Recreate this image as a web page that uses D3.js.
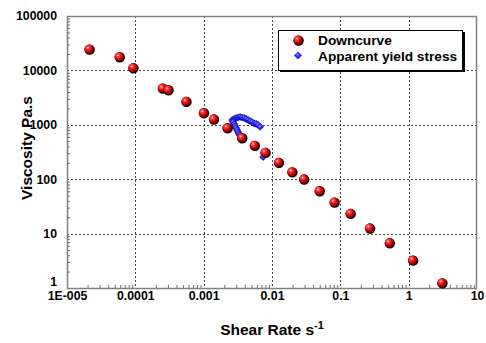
<!DOCTYPE html>
<html><head><meta charset="utf-8">
<script src="https://cdn.jsdelivr.net/npm/d3@7"></script>
<style>
body{margin:0;background:#fff;}
svg{display:block;font-family:"Liberation Sans",Arial,sans-serif;font-weight:bold;}
</style></head>
<body><svg id="c" width="486" height="343"></svg>
<script>
// ---- data ----
const xTickValues = [1e-5, 1e-4, 1e-3, 1e-2, 1e-1, 1, 10];
const xTickLabels = ["1E-005", "0.0001", "0.001", "0.01", "0.1", "1", "10"];
const yTickValues = [1, 10, 100, 1000, 10000, 100000];
const yTickLabels = ["1", "10", "100", "1000", "10000", "100000"];

const downShear = [2.1e-5, 5.8e-5, 9.2e-5, 2.48e-4, 3.0e-4, 5.5e-4, 9.9e-4, 1.39e-3, 2.2e-3, 3.6e-3,
  5.5e-3, 7.9e-3, 0.0124, 0.0195, 0.029, 0.049, 0.081, 0.139, 0.267, 0.52, 1.14, 3.06];
const downVisc = [24700, 17900, 11200, 4740, 4420, 2700, 1670, 1280, 885, 580,
  420, 312, 205, 137, 101, 61.5, 38.1, 23.6, 12.7, 6.8, 3.27, 1.25];

const yieldShear = [2.61e-3, 2.79e-3, 2.98e-3, 3.19e-3, 3.41e-3, 3.65e-3, 3.91e-3, 4.18e-3, 4.47e-3, 4.78e-3,
  5.11e-3, 5.47e-3, 5.85e-3, 6.26e-3, 6.70e-3,
  2.69e-3, 2.79e-3, 2.88e-3, 2.98e-3, 3.08e-3, 3.19e-3, 3.30e-3, 3.41e-3, 3.65e-3, 3.78e-3, 7.41e-3];
const yieldVisc = [1225, 1280, 1334, 1362, 1391, 1362, 1334, 1280, 1225, 1175,
  1125, 1060, 1040, 1000, 920,
  1125, 1035, 951, 873, 802, 737, 677, 636, 597, 548, 256];

const legendLabels = ["Downcurve", "Apparent yield stress"];

// ---- layout ----
const svg = d3.select("#c");
const L = 67, R = 477, T = 16, B = 288;
const x = d3.scaleLog().domain([1e-5, 10]).range([L, R]);
const y = d3.scaleLog().domain([1, 1e5]).range([B, T]);

const defs = svg.append("defs");
const g1 = defs.append("radialGradient").attr("id", "ball").attr("cx", "0.38").attr("cy", "0.35").attr("r", "0.65");
g1.append("stop").attr("offset", "0").attr("stop-color", "#ffffff");
g1.append("stop").attr("offset", "0.22").attr("stop-color", "#ff5050");
g1.append("stop").attr("offset", "0.6").attr("stop-color", "#e80000");
g1.append("stop").attr("offset", "1").attr("stop-color", "#800000");
const g2 = defs.append("radialGradient").attr("id", "dia").attr("cx", "0.45").attr("cy", "0.4").attr("r", "0.6");
g2.append("stop").attr("offset", "0").attr("stop-color", "#9090ff");
g2.append("stop").attr("offset", "0.5").attr("stop-color", "#2020ff");
g2.append("stop").attr("offset", "1").attr("stop-color", "#0000b0");

// minor tick values
const minorX = [], minorY = [];
for (let e = -5; e < 1; e++) for (let m = 2; m <= 9; m++) minorX.push(m * Math.pow(10, e));
for (let e = 0; e < 5; e++) for (let m = 2; m <= 9; m++) minorY.push(m * Math.pow(10, e));

// gridlines
const grid = svg.append("g").attr("stroke", "#444").attr("stroke-width", 1).attr("stroke-dasharray", "2,2");
grid.selectAll("line.v").data(xTickValues.slice(1, -1)).join("line")
  .attr("x1", d => Math.round(x(d)) + 0.5).attr("x2", d => Math.round(x(d)) + 0.5)
  .attr("y1", T).attr("y2", B);
grid.selectAll("line.h").data(yTickValues.slice(1, -1)).join("line")
  .attr("y1", d => Math.round(y(d)) + 0.5).attr("y2", d => Math.round(y(d)) + 0.5)
  .attr("x1", L).attr("x2", R);

// frame
svg.append("rect").attr("x", L + 0.5).attr("y", T + 0.5).attr("width", R - L - 1).attr("height", B - T)
  .attr("fill", "none").attr("stroke", "#808080").attr("stroke-width", 1.5);

// axes
const xAxis = svg.append("g").attr("transform", `translate(0,${B})`)
  .call(d3.axisBottom(x).tickValues(xTickValues).tickFormat((d, i) => xTickLabels[i]).tickSize(0).tickPadding(3.5));
const yAxis = svg.append("g").attr("transform", `translate(${L},0)`)
  .call(d3.axisLeft(y).tickValues(yTickValues).tickFormat((d, i) => yTickLabels[i]).tickSize(0).tickPadding(10));
[xAxis, yAxis].forEach(a => {
  a.select(".domain").remove();
  a.selectAll("text").attr("fill", "#000").attr("font-size", "12.3px").attr("font-weight", "bold")
    .attr("font-family", "'Liberation Sans', Arial, sans-serif");
});
// lift the bottom-most y label so it clears the x labels
yAxis.selectAll(".tick text").filter(d => d === 1).attr("dy", "-0.22em");

// minor ticks (inward)
const mx = svg.append("g").attr("transform", `translate(0,${B})`)
  .call(d3.axisTop(x).tickValues(minorX).tickFormat("").tickSize(3));
const my = svg.append("g").attr("transform", `translate(${L},0)`)
  .call(d3.axisRight(y).tickValues(minorY).tickFormat("").tickSize(3));
[mx, my].forEach(a => { a.select(".domain").remove(); a.selectAll("line").attr("stroke", "#707070"); });

// series: yield stress diamonds
const diam = "M0,-3.6L3.6,0L0,3.6L-3.6,0Z";
svg.append("g").selectAll("path").data(yieldShear.map((s, i) => [s, yieldVisc[i]])).join("path")
  .attr("transform", d => `translate(${x(d[0])},${y(d[1])})`)
  .attr("d", diam).attr("fill", "url(#dia)").attr("stroke", "#0000a0").attr("stroke-width", 0.5);

// series: downcurve spheres
const balls = svg.append("g").selectAll("g").data(downShear.map((s, i) => [s, downVisc[i]])).join("g")
  .attr("transform", d => `translate(${x(d[0])},${y(d[1])})`);
balls.append("circle").attr("r", 5.2).attr("cx", 0.6).attr("cy", 0.6).attr("fill", "#000");
balls.append("circle").attr("r", 4.5).attr("fill", "url(#ball)");

// legend
const lg = svg.append("g");
lg.append("rect").attr("x", 280).attr("y", 32).attr("width", 185).attr("height", 40).attr("fill", "#000");
lg.append("rect").attr("x", 278.5).attr("y", 30.5).attr("width", 184).attr("height", 40)
  .attr("fill", "#fff").attr("stroke", "#000").attr("stroke-width", 1);
const lb = lg.append("g").attr("transform", "translate(298,40)");
lb.append("circle").attr("r", 5.2).attr("cx", 0.6).attr("cy", 0.6).attr("fill", "#000");
lb.append("circle").attr("r", 4.5).attr("fill", "url(#ball)");
lg.append("path").attr("transform", "translate(298,55.5)").attr("d", diam)
  .attr("fill", "url(#dia)").attr("stroke", "#0000a0").attr("stroke-width", 0.5);
lg.selectAll("text").data(legendLabels).join("text")
  .attr("x", 318).attr("y", (d, i) => 45 + i * 15.5)
  .attr("font-size", "13.7px").attr("fill", "#000").text(d => d);

// axis titles
const xt = svg.append("text").attr("x", 272).attr("y", 335).attr("text-anchor", "middle")
  .attr("font-size", "15.5px").attr("fill", "#000");
xt.append("tspan").text("Shear Rate s");
xt.append("tspan").attr("dy", -6).attr("font-size", "11px").text("-1");

svg.append("text").attr("transform", "translate(32,148) rotate(-90)").attr("text-anchor", "middle")
  .attr("font-size", "15.5px").attr("fill", "#000").text("Viscosity Pa.s");
</script></body></html>
